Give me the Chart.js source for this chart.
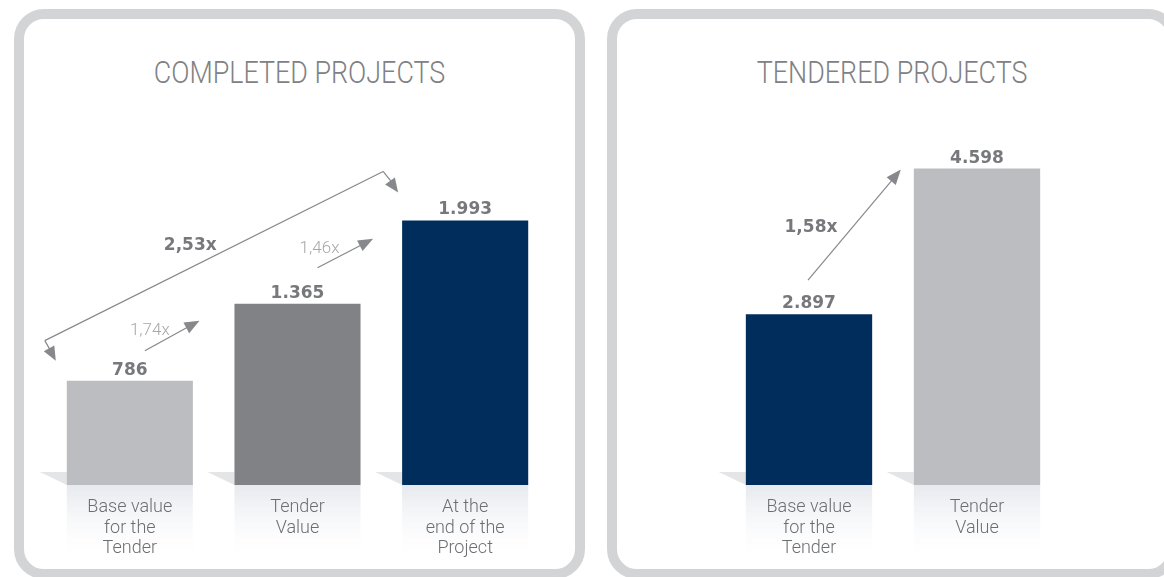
<!DOCTYPE html>
<html>
<head>
<meta charset="utf-8">
<script src="https://cdn.jsdelivr.net/npm/chart.js@4.4.0/dist/chart.umd.min.js"></script>
<style>
    body {
        margin: 0;
        width: 1164px;
        height: 577px;
        overflow: hidden;
        background: #fff;
        position: relative;
        font-family: Roboto, sans-serif;
    }
    .panel {
        position: absolute;
        top: 9px;
        width: 551px;
        height: 550px;
        border: 10px solid #d3d4d6;
        border-radius: 30px;
    }
    #panel1 { left: 14px; }
    #panel2 { left: 607px; }
    .title {
        position: absolute;
        top: 52px;
        width: 571px;
        text-align: center;
        font-size: 32px;
        font-weight: 300;
        line-height: 40px;
        color: #808184;
    }
    .title span {
        display: inline-block;
        transform: scaleX(0.84);
    }
    #title1 { left: 14px; }
    #title2 { left: 607px; }
    canvas { position: absolute; top: 19px; }
    #completed { left: 24px; }
    #tendered { left: 617px; }
</style>
</head>
<body>
<div class="panel" id="panel1"></div>
<div class="panel" id="panel2"></div>
<div class="title" id="title1"><span>COMPLETED PROJECTS</span></div>
<div class="title" id="title2"><span>TENDERED PROJECTS</span></div>
<canvas id="completed" width="551" height="550"></canvas>
<canvas id="tendered" width="547" height="550"></canvas>

<script>
// 완료 프로젝트
const completedLabels = [['Base value', 'for the', 'Tender'], ['Tender', 'Value'], ['At the', 'end of the', 'Project']];
const completedValues = [786, 1365, 1993];
const completedColors = ['#bcbdc0', '#808285', '#002d5c'];
const completedRatios = ['1,74x', '1,46x', '2,53x'];

// 입찰 프로젝트
const tenderedLabels = [['Base value', 'for the', 'Tender'], ['Tender', 'Value']];
const tenderedValues = [2897, 4598];
const tenderedColors = ['#002d5c', '#bcbdc0'];
const tenderedRatios = ['1,58x'];

const arrowColor = '#87888b';

function formatValue(v) {
    return String(v).replace(/\B(?=(\d{3})+(?!\d))/g, '.');
}

function drawHead(ctx, x1, y1, x2, y2, len, half) {
    const ang = Math.atan2(y2 - y1, x2 - x1);
    ctx.beginPath();
    ctx.moveTo(x2, y2);
    ctx.lineTo(x2 - len * Math.cos(ang) + half * Math.sin(ang), y2 - len * Math.sin(ang) - half * Math.cos(ang));
    ctx.lineTo(x2 - len * Math.cos(ang) - half * Math.sin(ang), y2 - len * Math.sin(ang) + half * Math.cos(ang));
    ctx.closePath();
    ctx.fill();
}

function drawArrow(ctx, x1, y1, x2, y2) {
    const ang = Math.atan2(y2 - y1, x2 - x1);
    ctx.beginPath();
    ctx.moveTo(x1, y1);
    ctx.lineTo(x2 - 10 * Math.cos(ang), y2 - 10 * Math.sin(ang));
    ctx.stroke();
    drawHead(ctx, x1, y1, x2, y2, 15, 6);
}

// 막대 아래 바닥 그림자 (축 라벨보다 먼저 그림)
const floorPlugin = {
    id: 'floor',
    beforeDraw(chart) {
        const ctx = chart.ctx;
        const bottom = chart.chartArea.bottom;
        chart.getDatasetMeta(0).data.forEach(function (bar) {
            const left = bar.x - bar.width / 2;
            ctx.save();
            ctx.fillStyle = '#e4e5e7';
            ctx.beginPath();
            ctx.moveTo(left - 27, bottom - 13);
            ctx.lineTo(left, bottom - 13);
            ctx.lineTo(left, bottom);
            ctx.closePath();
            ctx.fill();
            const grad = ctx.createLinearGradient(0, bottom, 0, bottom + 80);
            grad.addColorStop(0, '#e6e9ee');
            grad.addColorStop(1, 'rgba(255,255,255,0)');
            ctx.fillStyle = grad;
            ctx.fillRect(left, bottom, bar.width, 80);
            ctx.restore();
        });
    }
};

// 값 라벨
const valuePlugin = {
    id: 'values',
    afterDatasetsDraw(chart) {
        const ctx = chart.ctx;
        const values = chart.data.datasets[0].data;
        ctx.save();
        ctx.fillStyle = '#77787b';
        ctx.font = 'bold 17px "DejaVu Sans"';
        ctx.textAlign = 'center';
        ctx.textBaseline = 'alphabetic';
        chart.getDatasetMeta(0).data.forEach(function (bar, i) {
            ctx.fillText(formatValue(values[i]), bar.x, bar.y - 6);
        });
        ctx.restore();
    }
};

const completedArrows = {
    id: 'completedArrows',
    afterDatasetsDraw(chart) {
        const ctx = chart.ctx;
        const bars = chart.getDatasetMeta(0).data;
        const b1 = bars[0], b2 = bars[1], b3 = bars[2];
        const l1 = b1.x - b1.width / 2, l2 = b2.x - b2.width / 2, l3 = b3.x - b3.width / 2;
        ctx.save();
        ctx.strokeStyle = arrowColor;
        ctx.fillStyle = arrowColor;
        ctx.lineWidth = 1.2;

        drawArrow(ctx, b1.x + 15, b1.y - 30, l2 - 35, b1.y - 60);
        drawArrow(ctx, b2.x + 20, b2.y - 36, l3 - 29, b2.y - 65);

        // 전체 배율 화살표
        const lc = [l1 - 22, b1.y - 40], lt = [l1 - 11, b1.y - 20];
        const rc = [l3 - 19, b3.y - 49], rt = [l3 - 4, b3.y - 28];
        ctx.beginPath();
        ctx.moveTo(lc[0], lc[1]);
        ctx.lineTo(rc[0], rc[1]);
        ctx.moveTo(lc[0], lc[1]);
        ctx.lineTo(lt[0] - 3, lt[1] - 6);
        ctx.moveTo(rc[0], rc[1]);
        ctx.lineTo(rt[0] - 3, rt[1] - 6);
        ctx.stroke();
        drawHead(ctx, lc[0], lc[1], lt[0], lt[1], 14, 6);
        drawHead(ctx, rc[0], rc[1], rt[0], rt[1], 14, 6);

        ctx.textAlign = 'center';
        ctx.textBaseline = 'middle';
        ctx.font = '300 17px Roboto';
        ctx.fillStyle = '#a7a8ab';
        ctx.fillText(completedRatios[0], b1.x + 20, b1.y - 50);
        ctx.fillText(completedRatios[1], b2.x + 22, b2.y - 55);
        ctx.font = 'bold 17px "DejaVu Sans"';
        ctx.fillStyle = '#77787b';
        const t = 0.43;
        ctx.fillText(completedRatios[2], lc[0] + (rc[0] - lc[0]) * t, lc[1] + (rc[1] - lc[1]) * t - 22);
        ctx.restore();
    }
};

const tenderedArrows = {
    id: 'tenderedArrows',
    afterDatasetsDraw(chart) {
        const ctx = chart.ctx;
        const bars = chart.getDatasetMeta(0).data;
        const bA = bars[0], bB = bars[1];
        const lB = bB.x - bB.width / 2;
        ctx.save();
        ctx.strokeStyle = arrowColor;
        ctx.fillStyle = arrowColor;
        ctx.lineWidth = 1.2;
        drawArrow(ctx, bA.x - 1, bA.y - 34, lB - 13, bB.y + 1);
        ctx.textAlign = 'center';
        ctx.textBaseline = 'middle';
        ctx.font = 'bold 17px "DejaVu Sans"';
        ctx.fillStyle = '#77787b';
        ctx.fillText(tenderedRatios[0], bA.x + 2, bA.y - 87);
        ctx.restore();
    }
};

function makeConfig(labels, values, colors, yMin, yMax, padLeft, padRight, extra) {
    return {
        type: 'bar',
        data: {
            labels: labels,
            datasets: [{
                data: values,
                backgroundColor: colors,
                borderWidth: 0,
                categoryPercentage: 1,
                barPercentage: 0.752,
            }]
        },
        options: {
            responsive: false,
            animation: false,
            layout: {
                padding: { top: 81, left: padLeft, right: padRight, bottom: 0 }
            },
            plugins: {
                legend: { display: false },
                tooltip: { enabled: false },
                title: { display: false },
            },
            scales: {
                x: {
                    grid: { display: false, drawTicks: false },
                    border: { display: false },
                    ticks: {
                        padding: 12,
                        color: '#6d6e71',
                        font: { family: 'Roboto', size: 18, weight: '300', lineHeight: 1.15 },
                    },
                    afterFit: function (axis) {
                        axis.height = 84;
                    }
                },
                y: {
                    display: false,
                    min: yMin,
                    max: yMax,
                }
            }
        },
        plugins: [floorPlugin, valuePlugin, extra]
    };
}

var chart1 = new Chart(document.getElementById('completed').getContext('2d'),
    makeConfig(completedLabels, completedValues, completedColors, 0, 2900, 22, 26, completedArrows));
var chart2 = new Chart(document.getElementById('tendered').getContext('2d'),
    makeConfig(tenderedLabels, tenderedValues, tenderedColors, 900, 5400, 108, 103, tenderedArrows));
</script>
</body>
</html>
